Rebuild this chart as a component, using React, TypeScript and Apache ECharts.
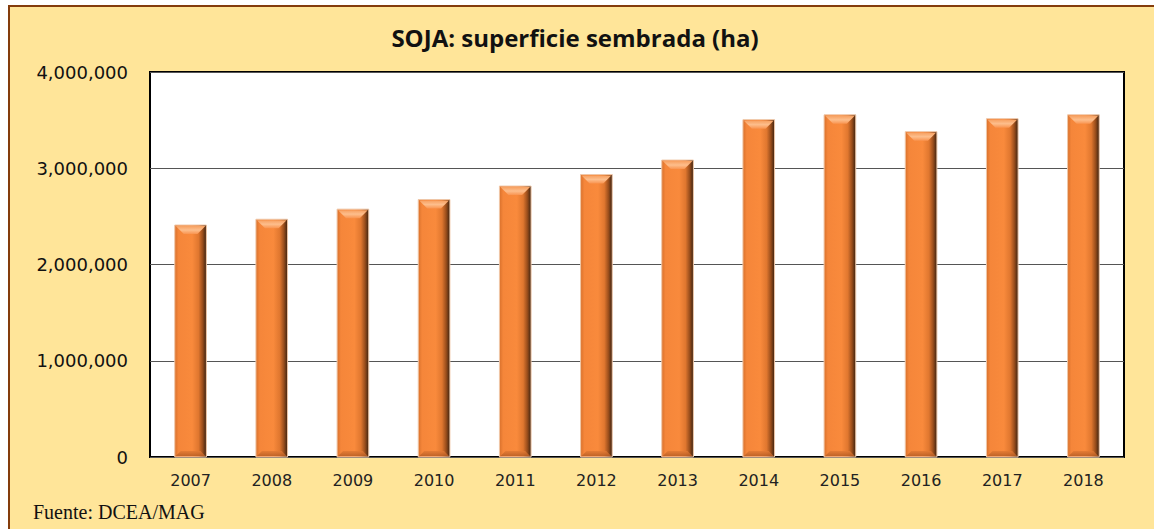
import React, { useEffect, useRef } from "react";
import * as echarts from "echarts";

const years = ["2007", "2008", "2009", "2010", "2011", "2012", "2013", "2014", "2015", "2016", "2017", "2018"];
const hectares = [2410000, 2470000, 2575000, 2675000, 2815000, 2935000, 3085000, 3505000, 3555000, 3380000, 3515000, 3555000];
const yTicks = [0, 1000000, 2000000, 3000000, 4000000];
const titleText = "SOJA: superficie sembrada (ha)";
const sourceText = "Fuente: DCEA/MAG";

export default function App() {
  const ref = useRef<HTMLDivElement>(null);
  useEffect(() => {
    if (!ref.current) return;
    const chart = echarts.init(ref.current, null, { renderer: "svg" });
    const bodyGrad = new echarts.graphic.LinearGradient(0, 0, 1, 0, [
      { offset: 0, color: "#D9712C" },
      { offset: 0.12, color: "#F5863A" },
      { offset: 0.55, color: "#F98A3C" },
      { offset: 0.75, color: "#E0772F" },
      { offset: 0.88, color: "#9A4E1C" },
      { offset: 1, color: "#3C2210" },
    ]);
    const topGrad = new echarts.graphic.LinearGradient(0, 0, 0, 1, [
      { offset: 0, color: "#F7A060" },
      { offset: 0.5, color: "#FDBE8C" },
      { offset: 1, color: "#F99450" },
    ]);
    const bottomGrad = new echarts.graphic.LinearGradient(0, 0, 0, 1, [
      { offset: 0, color: "#E27A34" },
      { offset: 1, color: "#B85E24" },
    ]);
    chart.setOption({
      animation: false,
      backgroundColor: "transparent",
      title: {
        text: titleText,
        left: 570,
        top: 20,
        textAlign: "center",
        textStyle: { fontFamily: "Open Sans", fontWeight: "bold", fontSize: 24, color: "#111" },
      },
      grid: {
        left: 150,
        right: 30,
        top: 72,
        bottom: 72,
        show: true,
        backgroundColor: "#FFFFFF",
        borderColor: "#000000",
        borderWidth: 2,
      },
      xAxis: {
        type: "category",
        data: years,
        axisLine: { show: false },
        axisTick: { show: false },
        axisLabel: { fontFamily: "DejaVu Sans", fontSize: 16, color: "#222", margin: 15 },
      },
      yAxis: {
        type: "value",
        min: yTicks[0],
        max: yTicks[yTicks.length - 1],
        interval: yTicks[1] - yTicks[0],
        axisLine: { show: false },
        axisTick: { show: false },
        splitLine: { lineStyle: { color: "#555555", width: 1 } },
        axisLabel: {
          fontFamily: "DejaVu Sans",
          fontSize: 18,
          color: "#111",
          margin: 22,
          formatter: (v: number) => v.toLocaleString("en-US"),
        },
      },
      graphic: [
        {
          type: "text",
          left: 33,
          top: 502,
          style: { text: sourceText, font: '20px "Liberation Serif"', fill: "#111" },
        },
      ],
      series: [
        {
          type: "custom",
          data: hectares.map((v, i) => [i, v]),
          encode: { x: 0, y: 1 },
          renderItem: (params: any, api: any) => {
            const idx = api.value(0);
            const v = api.value(1);
            const top = api.coord([idx, v]);
            const base = api.coord([idx, 0]);
            const bw = api.size([1, 0])[0] * 0.39;
            const x = top[0] - bw / 2;
            const y = top[1];
            const h = base[1] - top[1];
            const b = 9;
            const s = 9;
            const bb = 6;
            return {
              type: "group",
              children: [
                {
                  type: "rect",
                  shape: { x, y, width: bw, height: h },
                  style: { fill: bodyGrad, stroke: "#EFC7A8", lineWidth: 1 },
                },
                {
                  type: "polygon",
                  shape: { points: [[x + 1, y + 1], [x + bw - 1, y + 1], [x + bw - s, y + b], [x + s, y + b]] },
                  style: { fill: topGrad },
                },
                {
                  type: "polygon",
                  shape: { points: [[x + 1, base[1] - 1], [x + bw - 1, base[1] - 1], [x + bw - bb, base[1] - bb], [x + bb, base[1] - bb]] },
                  style: { fill: bottomGrad, opacity: 0.85 },
                },
              ],
            };
          },
        },
      ],
    });
    return () => chart.dispose();
  }, []);
  return (
    <div style={{ position: "fixed", left: 0, top: 0, width: 1154, height: 529, background: "#FFFFFF", overflow: "hidden" }}>
      <div
        style={{
          position: "absolute",
          left: 8,
          top: 5,
          width: 1160,
          height: 540,
          background: "#FFE599",
          borderTop: "2px solid #843C0C",
          borderLeft: "2px solid #843C0C",
          boxSizing: "border-box",
        }}
      />
      <div ref={ref} style={{ position: "absolute", left: 0, top: 0, width: 1154, height: 529 }} />
    </div>
  );
}
